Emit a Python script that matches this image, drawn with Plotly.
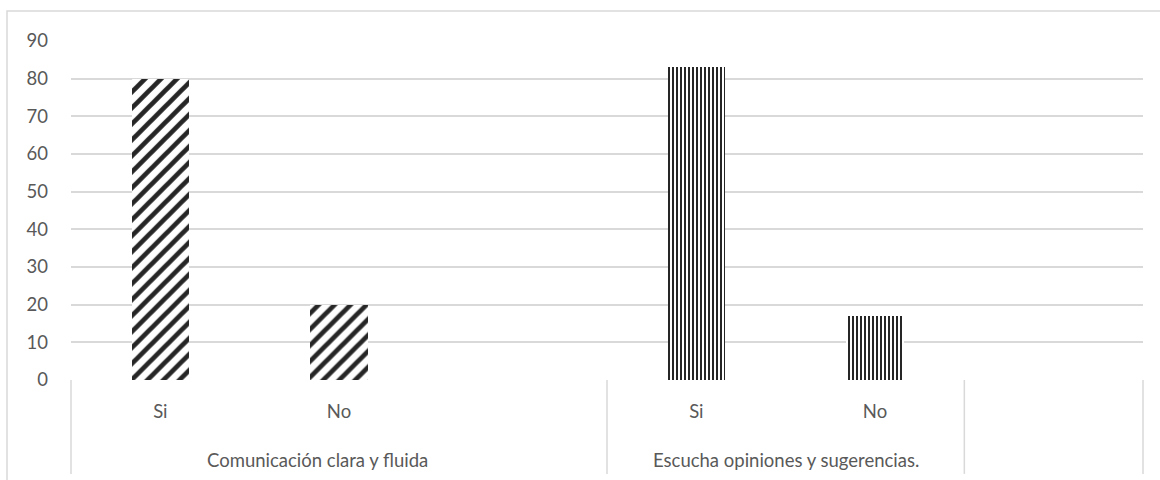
import plotly.graph_objects as go

# Survey results per item (percentages)
groups = ["Comunicación clara y fluida", "Escucha opiniones y sugerencias."]
options = ["Si", "No"]
values = {
    "Comunicación clara y fluida": [80, 20],
    "Escucha opiniones y sugerencias.": [83, 17],
}
y_ticks = [0, 10, 20, 30, 40, 50, 60, 70, 80, 90]

patterns = ["/", "|"]
pattern_sizes = [11.3, 4]
pattern_solidity = [0.42, 0.5]

SLOTS = 3          # two answers plus one empty slot per item
N_SLOTS = SLOTS * len(groups)
TEXT = "#595959"
GRID = "#d9d9d9"
FONT = "Lato, Carlito, Calibri, sans-serif"
FS = 18.5

fig = go.Figure()
tickvals, ticktext = [], []
for g, name in enumerate(groups):
    xs = [g * SLOTS + i for i in range(len(options))]
    tickvals += xs
    ticktext += options
    fig.add_trace(go.Bar(
        x=xs,
        y=values[name],
        width=0.32,
        marker=dict(
            color="white",
            line=dict(width=0),
            pattern=dict(shape=patterns[g], fgcolor="#262626", bgcolor="white",
                         size=pattern_sizes[g], solidity=pattern_solidity[g],
                         fillmode="replace"),
        ),
        showlegend=False,
        hoverinfo="x+y",
    ))

# Multi-level category frame under the x axis
shapes = []
for xp in [0, 0.5, 5 / 6, 1]:
    shapes.append(dict(type="line", xref="paper", yref="paper",
                       x0=xp, x1=xp, y0=0, y1=-0.277,
                       line=dict(color=GRID, width=1.5)))
# Chart area border
shapes.append(dict(type="rect", xref="paper", yref="paper",
                   x0=-0.0597, x1=1.05, y0=-0.4, y1=1.0885,
                   line=dict(color=GRID, width=1.5), fillcolor="rgba(0,0,0,0)",
                   layer="below"))

group_pos = [0.2304, 4 / 6]
annotations = [
    dict(text=name, x=group_pos[g], y=-0.236, xref="paper", yref="paper",
         showarrow=False, xanchor="center", yanchor="middle",
         font=dict(size=FS, color=TEXT, family=FONT))
    for g, name in enumerate(groups)
]

fig.update_layout(
    width=1160, height=480,
    margin=dict(l=71, r=17, t=41, b=100),
    paper_bgcolor="white", plot_bgcolor="white",
    font=dict(family=FONT, size=FS, color=TEXT),
    shapes=shapes,
    annotations=annotations,
    xaxis=dict(
        range=[-0.5, N_SLOTS - 0.5],
        tickmode="array", tickvals=tickvals, ticktext=ticktext,
        showgrid=False, zeroline=False, showline=False,
        ticks="", ticklabelstandoff=18,
        tickfont=dict(size=FS, color=TEXT, family=FONT),
        fixedrange=True,
    ),
    yaxis=dict(
        range=[0, 90],
        tickmode="array", tickvals=y_ticks,
        showgrid=True, gridcolor=GRID, gridwidth=1.5,
        zeroline=False, showline=False, ticks="",
        ticklabelstandoff=22,
        tickfont=dict(size=FS, color=TEXT, family=FONT),
        fixedrange=True,
    ),
    bargap=0,
)

fig.write_html("out.html")
